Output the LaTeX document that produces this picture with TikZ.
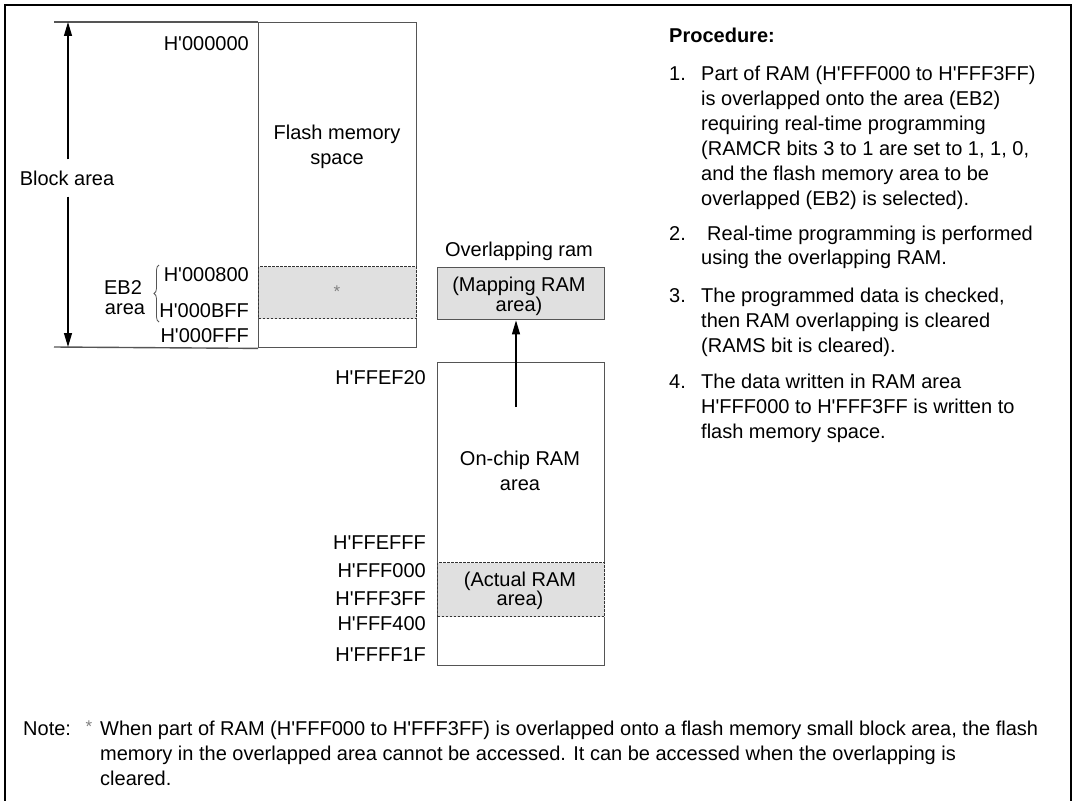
\documentclass[tikz,border=0pt]{standalone}
\usepackage{fontspec}
\setmainfont{Liberation Sans}[Ligatures=TeXOff]
\usetikzlibrary{arrows.meta,decorations.pathreplacing,calc}
\definecolor{boxline}{HTML}{555555}
\definecolor{shadefill}{HTML}{E0E0E0}
\definecolor{dotline}{HTML}{333333}
\newcommand{\Lfirst}[1]{\begin{tabular}[t]{@{}l@{}}#1\end{tabular}}
\newcommand{\Cfirst}[1]{\begin{tabular}[t]{@{}c@{}}#1\end{tabular}}
\begin{document}
\begin{tikzpicture}[x=1pt,y=-1pt,
  font=\fontsize{20}{25}\selectfont,
  membox/.style={draw=boxline, line width=1.4pt, rectangle, inner sep=0pt, anchor=north west},
  shadebox/.style={fill=shadefill, draw=dotline, line width=1.1pt, dash pattern=on 2.5pt off 1.5pt,
    rectangle, inner sep=0pt, anchor=north west},
  lbl/.style={inner sep=0pt, anchor=base east},
  txt/.style={inner sep=0pt, anchor=base},
  ltxt/.style={inner sep=0pt, anchor=base west},
  arr/.style={-{Triangle[length=14pt,width=8pt]}, line width=1.2pt},
  frameline/.style={line width=2.2pt, black},
  ext/.style={draw=boxline, line width=1.4pt},
  star/.style={inner sep=0pt, text=gray, font=\fontsize{17}{17}\selectfont}
]
\useasboundingbox (0,0) rectangle (1075,800);

% outer frame (bottom edge lies below the picture)
\coordinate (fbl) at (5,806);
\coordinate (ftl) at (5,5);
\coordinate (ftr) at (1071,5);
\coordinate (fbr) at (1071,806);
\draw[frameline] (fbl) -- (ftl) -- (ftr) -- (fbr);

% ---------- flash memory ----------
\node[membox, minimum width=158pt, minimum height=325pt] (flash) at (258,22) {};
\node[shadebox, minimum width=158pt, minimum height=52pt] (eb2) at (258,266) {};
\node[star] (eb2star) at (337,292) {*};
\coordinate (tl) at (54,22);
\coordinate (bl) at (54,347);
\draw[ext] (tl) -- (flash.north west);
\draw[ext] (bl) -- (flash.south west);
\node[txt] (flashtxt) at (337,139) {\Cfirst{Flash memory\\space}};

% block area arrow
\node[inner xsep=0pt, inner ysep=11pt] (blocktxt) at (67,178) {Block area};
\coordinate (btop) at (68,22);
\coordinate (bbot) at (68,347);
\draw[arr] (blocktxt.north -| btop) -- (btop);
\draw[arr] (blocktxt.south -| bbot) -- (bbot);

% address labels
\node[lbl] (a0) at (249,51) {H'000000};
\node[lbl] (a800) at (249,281) {H'000800};
\node[lbl] (abff) at (249,317) {H'000BFF};
\node[lbl] (afff) at (249,342) {H'000FFF};
\node[txt] (eb2a) at (123,294) {EB2};
\node[txt] (eb2b) at (125,314) {area};
\coordinate (brb) at (159,322);
\coordinate (brt) at (159,265);
\draw[line width=0.8pt, boxline, decorate, decoration={brace, amplitude=5pt}] (brb) -- (brt);

% ---------- overlapping RAM ----------
\node[txt] (ovtxt) at (519,256) {Overlapping ram};
\node[membox, fill=shadefill, minimum width=167pt, minimum height=52pt] (map) at (437,267) {};
\node[txt, font=\fontsize{20}{19}\selectfont] (maptxt) at (519,291) {\Cfirst{(Mapping RAM\\area)}};

% ---------- on-chip RAM ----------
\node[membox, minimum width=167pt, minimum height=303pt] (ram) at (437,362) {};
\node[shadebox, minimum width=167pt, minimum height=54pt] (act) at (437,562) {};
\node[txt] (ramtxt) at (520,465) {\Cfirst{On-chip RAM\\area}};
\node[txt, font=\fontsize{20}{18}\selectfont] (acttxt) at (520,586) {\Cfirst{(Actual RAM\\area)}};
\coordinate (arrstart) at (516,407);
\draw[arr] (arrstart) -- (arrstart |- map.south);

\node[lbl] (r1) at (426,384) {H'FFEF20};
\node[lbl] (r2) at (426,549) {H'FFEFFF};
\node[lbl] (r3) at (426,577) {H'FFF000};
\node[lbl] (r4) at (426,605) {H'FFF3FF};
\node[lbl] (r5) at (426,630) {H'FFF400};
\node[lbl] (r6) at (426,661) {H'FFFF1F};

% ---------- procedure ----------
\node[ltxt, font=\fontsize{20}{25}\selectfont\bfseries] (proc) at (669,43) {Procedure:};
\node[ltxt] (n1) at (669,80) {1.};
\node[ltxt] (p1) at (701,80) {\Lfirst{Part of RAM (H'FFF000 to H'FFF3FF)\\is overlapped onto the area (EB2)\\requiring real-time programming\\(RAMCR bits 3 to 1 are set to 1, 1, 0,\\and the flash memory area to be\\overlapped (EB2) is selected).}};
\node[ltxt] (n2) at (669,240) {2.};
\node[ltxt] (p2) at (707,240) {Real-time programming is performed};
\node[ltxt] (p2b) at (701,264) {using the overlapping RAM.};
\node[ltxt] (n3) at (669,302) {3.};
\node[ltxt] (p3) at (701,302) {\Lfirst{The programmed data is checked,\\then RAM overlapping is cleared\\(RAMS bit is cleared).}};
\node[ltxt] (n4) at (669,388) {4.};
\node[ltxt] (p4) at (701,388) {\Lfirst{The data written in RAM area\\H'FFF000 to H'FFF3FF is written to\\flash memory space.}};

% ---------- note ----------
\node[ltxt] (note) at (23,735) {Note:};
\node[star] (notestar) at (89,727) {*};
\node[ltxt] (notetxt) at (100,735) {\Lfirst{When part of RAM (H'FFF000 to H'FFF3FF) is overlapped onto a flash memory small block area, the flash\\memory in the overlapped area cannot be accessed. It can be accessed when the overlapping is\\cleared.}};
\end{tikzpicture}
\end{document}
